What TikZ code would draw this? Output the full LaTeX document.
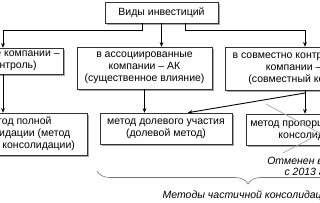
\documentclass[tikz,border=0pt]{standalone}
\usepackage{fontspec}
\setmainfont{Liberation Sans}
\usetikzlibrary{shadows,decorations.pathreplacing,arrows.meta,calc}
\begin{document}
\begin{tikzpicture}[x=1pt,y=-1pt,
  box/.style={draw=black!80, line width=0.6pt, fill=white,
    drop shadow={shadow xshift=2.2pt,shadow yshift=-2.2pt,fill=black!35,opacity=1},
    inner sep=0pt, align=center, font=\fontsize{10.5}{12}\selectfont},
  conn/.style={line width=0.9pt, -{Stealth[length=4.5pt,width=3.8pt]}},
  crossl/.style={draw=black!35, line width=0.7pt},
  bracel/.style={draw=black!55, line width=0.6pt},
  note/.style={align=center, inner sep=0pt, font=\fontsize{10.5}{11.5}\selectfont\itshape}
]
\useasboundingbox (0,0) rectangle (320,202);
\clip (0,0) rectangle (320,202);
\fill[white] (0,0) rectangle (320,202);

\node[box, minimum width=113pt, minimum height=21pt] (top) at (161.5,12.5) {Виды инвестиций};
\node[box, minimum width=120pt, minimum height=26pt] (left) at (3,61) {в дочерние компании –\\ДК (контроль)};
\node[box, minimum width=135pt, minimum height=42pt] (mid) at (144.5,68) {в ассоциированные\\компании – АК\\(существенное влияние)};
\node[box, minimum width=160pt, minimum height=43pt] (right) at (305,68.5) {в совместно контролируемые\\компании – СКК\\(совместный контроль)};
\node[box, minimum width=138pt, minimum height=42pt] (lb) at (18,134) {метод полной\\консолидации (метод\\полного консолидации)};
\node[box, minimum width=132pt, minimum height=31pt] (mb) at (166,128.5) {метод долевого участия\\(долевой метод)};
\node[box, minimum width=134pt, minimum height=31pt] (rb) at (313,129.5) {метод пропорциональной\\консолидации};

\coordinate (tl) at (142,30);
\coordinate (tr) at (185,30);
\coordinate (br) at (305,93);

\draw[conn] (top.south -| tl) -- (tl) -| (left.north);
\draw[conn] (top.south) -- (top.south |- mid.north);
\draw[conn] (top.south -| tr) -- (tr) -| (right.north);
\draw[conn] (left.south) -- (left.south |- lb.north);
\draw[conn] (mid.south) -- (mid.south |- mb.north);
\draw[conn] (right.south) -- (right.south |- rb.north);
\draw[conn] (br) -- ($(mb.north)!0.33!(mb.north east)$);

\draw[crossl] (266,104) -- (375,163);
\draw[crossl] (283,153) -- (375,105);

\node[note] (otm) at (313,166.5) {Отменен в МСФО\\с 2013 года};
\draw[bracel, decorate, decoration={brace,amplitude=13pt,mirror}] (97,171) -- (399,171);
\node[note] (met) at (248,195.5) {Методы частичной консолидации};
\end{tikzpicture}
\end{document}
